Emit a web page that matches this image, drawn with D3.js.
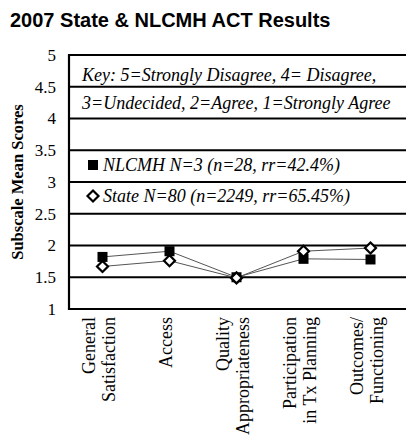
<!DOCTYPE html>
<html>
<head>
<meta charset="utf-8">
<script src="https://cdn.jsdelivr.net/npm/d3@7"></script>
<style>
  body { margin: 0; background: #fff; }
  svg { display: block; }
</style>
</head>
<body>
<div id="chart"></div>
<script>
let categories = [
  ["General", "Satisfaction"],
  ["Access"],
  ["Quality", "Appropriateness"],
  ["Participation", "in Tx Planning"],
  ["Outcomes/", "Functioning"]
];

let nlcmhValues = [1.82, 1.91, 1.50, 1.79, 1.78];
let stateValues = [1.67, 1.76, 1.49, 1.91, 1.96];

let yTicks = [1, 1.5, 2, 2.5, 3, 3.5, 4, 4.5, 5];

let keyLines = [
  "Key: 5=Strongly Disagree, 4= Disagree,",
  "3=Undecided, 2=Agree, 1=Strongly Agree"
];
let seriesNames = [
  "NLCMH N=3 (n=28, rr=42.4%)",
  "State N=80 (n=2249, rr=65.45%)"
];

let margin = {
  top:    55,
  right:  2,
  bottom: 127,
  left:   69
};

let exteriorWidth  = 406,
    exteriorHeight = 436;

let interiorWidth  = exteriorWidth - margin.left - margin.right,
    interiorHeight = exteriorHeight - margin.top - margin.bottom;

let serif = "'Liberation Serif', 'Times New Roman', serif";

let root =
  d3.select("#chart")
    .append("svg")
      .attr("width", exteriorWidth)
      .attr("height", exteriorHeight);

root.append("text")
    .attr("x", 10)
    .attr("y", 27)
    .style("font-family", "'Liberation Sans', Arial, sans-serif")
    .style("font-weight", "bold")
    .style("font-size", "20px")
    .text("2007 State & NLCMH ACT Results");

root.append("text")
    .attr("transform", "translate(23," + (margin.top + interiorHeight / 2) + ") rotate(-90)")
    .attr("text-anchor", "middle")
    .style("font-family", serif)
    .style("font-weight", "bold")
    .style("font-size", "16.5px")
    .text("Subscale Mean Scores");

let svg = root.append("g")
    .attr("transform", translate(margin.left, margin.top));

let keys = categories.map(function(d) { return d.join(" "); });

let x =
  d3.scaleBand()
    .domain(keys)
    .range([0, interiorWidth]);

let y =
  d3.scaleLinear()
    .domain([1, 5])
    .range([interiorHeight, 0]);

// horizontal grid lines
svg.selectAll(".grid")
    .data(yTicks)
  .enter().append("line")
    .attr("class", "grid")
    .attr("x1", 0)
    .attr("x2", exteriorWidth)
    .attr("y1", function(d) { return y(d); })
    .attr("y2", function(d) { return y(d); })
    .attr("stroke", "#000")
    .attr("stroke-width", 2.2);

// left frame line
svg.append("line")
    .attr("x1", 0).attr("x2", 0)
    .attr("y1", y(5) - 1).attr("y2", y(1) + 1)
    .attr("stroke", "#000")
    .attr("stroke-width", 2.2);

let yAxis = svg.append("g")
    .call(d3.axisLeft(y).tickValues(yTicks).tickSize(0).tickPadding(13).tickFormat(d3.format("")));
yAxis.select(".domain").remove();
yAxis.selectAll("text")
    .style("font-family", serif)
    .style("font-size", "17px")
    .attr("fill", "#000");

// category labels, rotated
let xLabels = svg.selectAll(".xlab")
    .data(categories)
  .enter().append("text")
    .attr("class", "xlab")
    .attr("text-anchor", "end")
    .attr("transform", "rotate(-90)")
    .style("font-family", serif)
    .style("font-size", "18px");

xLabels.each(function(d, i) {
  let cx = x(keys[i]) + x.bandwidth() / 2;
  let n = d.length;
  d3.select(this).selectAll("tspan")
      .data(d)
    .enter().append("tspan")
      .attr("x", -(interiorHeight + 8))
      .attr("y", function(t, j) { return cx + 2 + (j - (n - 1) / 2) * 20; })
      .text(function(t) { return t; });
});

// key text
svg.selectAll(".key")
    .data(keyLines)
  .enter().append("text")
    .attr("class", "key")
    .attr("x", 13)
    .attr("y", function(d, i) { return 26 + i * 28; })
    .style("font-family", serif)
    .style("font-style", "italic")
    .style("font-size", "18px")
    .text(function(d) { return d; });

let series = [
  {name: seriesNames[0], values: nlcmhValues, shape: "square"},
  {name: seriesNames[1], values: stateValues, shape: "diamond"}
];

let line = d3.line()
    .x(function(d, i) { return x(keys[i]) + x.bandwidth() / 2; })
    .y(function(d) { return y(d); });

svg.selectAll(".series-line")
    .data(series)
  .enter().append("path")
    .attr("class", "series-line")
    .attr("d", function(d) { return line(d.values); })
    .attr("fill", "none")
    .attr("stroke", "#555")
    .attr("stroke-width", 1);

function drawMarker(sel, shape) {
  if (shape === "square") {
    sel.append("rect")
        .attr("x", -5).attr("y", -5)
        .attr("width", 10).attr("height", 10)
        .attr("fill", "#000");
  } else {
    sel.append("path")
        .attr("d", "M0,-5.5L5.5,0L0,5.5L-5.5,0Z")
        .attr("fill", "#fff")
        .attr("stroke", "#000")
        .attr("stroke-width", 2.2);
  }
}

series.forEach(function(s) {
  svg.selectAll(".m-" + s.shape)
      .data(s.values)
    .enter().append("g")
      .attr("class", "m-" + s.shape)
      .attr("transform", function(d, i) {
        return translate(x(keys[i]) + x.bandwidth() / 2, y(d));
      })
      .each(function() { drawMarker(d3.select(this), s.shape); });
});

// legend entries
let legend = svg.selectAll(".legend")
    .data(series)
  .enter().append("g")
    .attr("class", "legend")
    .attr("transform", function(d, i) { return translate(24, 110 + i * 31); });

legend.each(function(d) { drawMarker(d3.select(this), d.shape); });

legend.append("text")
    .attr("x", 10)
    .attr("y", 5.5)
    .style("font-family", serif)
    .style("font-style", "italic")
    .style("font-size", "18px")
    .text(function(d) { return d.name; });

function translate(x, y=0) {
  return "translate({x}, {y})"
          .replace("{x}", x)
          .replace("{y}", y);
}
</script>
</body>
</html>
